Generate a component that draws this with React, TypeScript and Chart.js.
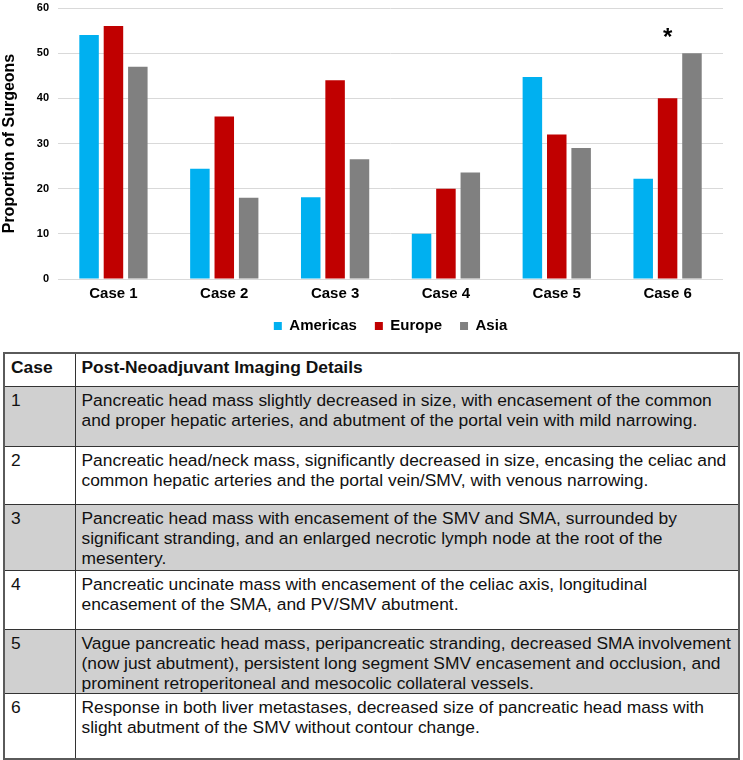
import React, { useEffect, useRef } from "react";
import { Chart, registerables } from "chart.js";

Chart.register(...registerables);

const categories = ["Case 1", "Case 2", "Case 3", "Case 4", "Case 5", "Case 6"];
const americas = [54, 24.4, 18.1, 10, 44.7, 22.2];
const europe = [56, 36, 44, 20, 32, 40];
const asia = [47, 18, 26.5, 23.6, 29, 50];
const yTickValues = [0, 10, 20, 30, 40, 50, 60];
const starredCases = ["Case 6"];

const caseNumbers = ["1", "2", "3", "4", "5", "6"];
const imagingDetails = [
  "Pancreatic head mass slightly decreased in size, with encasement of the common and proper hepatic arteries, and abutment of the portal vein with mild narrowing.",
  "Pancreatic head/neck mass, significantly decreased in size, encasing the celiac and common hepatic arteries and the portal vein/SMV, with venous narrowing.",
  "Pancreatic head mass with encasement of the SMV and SMA, surrounded by significant stranding, and an enlarged necrotic lymph node at the root of the mesentery.",
  "Pancreatic uncinate mass with encasement of the celiac axis, longitudinal encasement of the SMA, and PV/SMV abutment.",
  "Vague pancreatic head mass, peripancreatic stranding, decreased SMA involvement (now just abutment), persistent long segment SMV encasement and occlusion, and prominent retroperitoneal and mesocolic collateral vessels.",
  "Response in both liver metastases, decreased size of pancreatic head mass with slight abutment of the SMV without contour change.",
];
const rowHeights = [60, 58, 66, 59, 61, 66];

const FONT = "'Liberation Sans', Arial, Helvetica, sans-serif";

const starPlugin = {
  id: "starPlugin",
  afterDatasetsDraw(chart: any) {
    const { ctx, scales } = chart;
    const xs = scales.x;
    const ys = scales.y;
    ctx.save();
    ctx.font = `bold 24px ${FONT}`;
    ctx.fillStyle = "#000";
    ctx.textAlign = "center";
    ctx.textBaseline = "alphabetic";
    starredCases.forEach((c) => {
      const i = categories.indexOf(c);
      const top = Math.max(americas[i], europe[i], asia[i]);
      ctx.fillText("*", xs.getPixelForValue(i), ys.getPixelForValue(top) - 8);
    });
    ctx.restore();
  },
};

function BarChart() {
  const ref = useRef<HTMLCanvasElement | null>(null);
  useEffect(() => {
    if (!ref.current) return;
    const chart = new Chart(ref.current, {
      type: "bar",
      data: {
        labels: categories,
        datasets: [
          { label: "Americas", data: americas, backgroundColor: "#00B0F0" },
          { label: "Europe", data: europe, backgroundColor: "#C00000" },
          { label: "Asia", data: asia, backgroundColor: "#808080" },
        ],
      },
      options: {
        animation: false,
        responsive: true,
        maintainAspectRatio: false,
        datasets: { bar: { barPercentage: 0.8, categoryPercentage: 0.66 } },
        layout: { padding: { top: 8, left: 0, right: 20, bottom: 1.5 } },
        plugins: {
          tooltip: { enabled: false },
          legend: {
            position: "bottom",
            fullSize: false,
            labels: {
              boxWidth: 8,
              boxHeight: 8,
              padding: 18,
              color: "#000",
              font: { family: FONT, size: 15, weight: "bold" },
            },
          },
        },
        scales: {
          x: {
            grid: { display: false, drawTicks: false },
            border: { display: false },
            afterFit: (scale: any) => {
              scale.height -= 8.5;
            },
            ticks: {
              color: "#000",
              padding: 6,
              font: { family: FONT, size: 15, weight: "bold" },
            },
          },
          y: {
            min: 0,
            max: 60,
            afterBuildTicks: (axis: any) => {
              axis.ticks = yTickValues.map((v) => ({ value: v }));
            },
            afterFit: (scale: any) => {
              scale.paddingTop = 0;
            },
            grid: { color: "#d9d9d9", lineWidth: 1, drawTicks: false },
            border: { display: false },
            ticks: {
              color: "#000",
              padding: 9,
              font: { family: FONT, size: 11, weight: "bold" },
            },
            title: {
              display: true,
              text: "Proportion of Surgeons",
              color: "#000",
              padding: { top: 0, bottom: 8.6 },
              font: { family: FONT, size: 16, weight: "bold" },
            },
          },
        },
      },
      plugins: [starPlugin],
    });
    return () => chart.destroy();
  }, []);
  return (
    <div style={{ position: "relative", width: 743, height: 345 }}>
      <canvas ref={ref} />
    </div>
  );
}

function DetailsTable() {
  const cellBase: React.CSSProperties = {
    border: "1px solid #333",
    padding: "3px 6px 0 6px",
    verticalAlign: "top",
    textAlign: "left",
  };
  return (
    <table
      style={{
        marginLeft: 3,
        marginTop: 7,
        width: 737,
        borderCollapse: "collapse",
        border: "2px solid #5a5a5a",
        fontFamily: FONT,
        fontSize: 17.4,
        lineHeight: "20px",
        color: "#111",
        tableLayout: "fixed",
      }}
    >
      <colgroup>
        <col style={{ width: 71 }} />
        <col />
      </colgroup>
      <thead>
        <tr style={{ height: 33 }}>
          <th style={{ ...cellBase, fontWeight: "bold", background: "#fff" }}>Case</th>
          <th style={{ ...cellBase, fontWeight: "bold", background: "#fff" }}>
            Post-Neoadjuvant Imaging Details
          </th>
        </tr>
      </thead>
      <tbody>
        {caseNumbers.map((n, i) => {
          const bg = i % 2 === 0 ? "#d0d0d0" : "#ffffff";
          return (
            <tr key={n} style={{ height: rowHeights[i] }}>
              <td style={{ ...cellBase, background: bg }}>{n}</td>
              <td style={{ ...cellBase, background: bg }}>{imagingDetails[i]}</td>
            </tr>
          );
        })}
      </tbody>
    </table>
  );
}

export default function App() {
  useEffect(() => {
    document.body.style.margin = "0";
  }, []);
  return (
    <div style={{ width: 743, background: "#fff" }}>
      <BarChart />
      <DetailsTable />
    </div>
  );
}
